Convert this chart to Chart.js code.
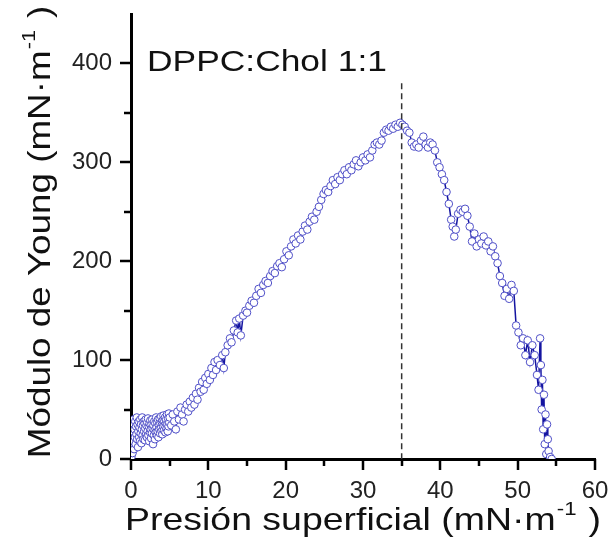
<!DOCTYPE html>
<html>
<head>
<meta charset="utf-8">
<script src="https://cdn.jsdelivr.net/npm/chart.js@4/dist/chart.umd.min.js"></script>
<style>
  body { margin: 0; background: #fff; }
  canvas { display: block; }
</style>
</head>
<body>
<canvas id="youngChart" width="611" height="555"></canvas>
<script>
// surface pressure (mN/m) and Young modulus (mN/m)
var pressure = [
  0.05, 0.10, 0.15, 0.20, 0.25, 0.30, 0.35, 0.40, 0.45, 0.50, 0.55, 0.60, 0.65, 0.70, 0.75, 0.80, 0.85, 0.90, 0.95, 1.00,
  1.05, 1.10, 1.15, 1.20, 1.25, 1.30, 1.35, 1.40, 1.45, 1.50, 1.55, 1.60, 1.65, 1.70, 1.75, 1.80, 1.85, 1.90, 1.95, 2.00,
  2.05, 2.10, 2.15, 2.20, 2.25, 2.30, 2.35, 2.40, 2.45, 2.50, 2.55, 2.60, 2.65, 2.70, 2.75, 2.80, 2.85, 2.90, 2.95, 3.00,
  3.05, 3.10, 3.15, 3.20, 3.25, 3.30, 3.35, 3.40, 3.45, 3.50, 3.55, 3.60, 3.65, 3.70, 3.75, 3.80, 3.85, 3.90, 3.95, 4.00,
  4.05, 4.10, 4.15, 4.20, 4.25, 4.30, 4.35, 4.40, 4.45, 4.50, 4.55, 4.60, 4.65, 4.70, 4.75, 4.80, 4.85, 4.90, 4.95, 5.00,
  5.2, 5.4, 5.6, 5.8, 6.0, 6.2, 6.4, 6.6, 6.8, 7.0, 7.2, 7.4, 7.6, 7.8, 8.0, 8.2, 8.4, 8.6, 8.8, 9.0,
  9.2, 9.4, 9.6, 9.8, 10.0, 10.2, 10.4, 10.6, 10.8, 11.0, 11.2, 11.5, 11.8, 12.0, 12.2, 12.5, 12.8, 13.0, 13.3, 13.6,
  13.8, 14.0, 14.2, 14.5, 14.8, 15.0, 15.3, 15.6, 15.9, 16.2, 16.5, 16.8, 17.1, 17.4, 17.7, 18.0, 18.3, 18.6, 18.9, 19.2,
  19.5, 19.8, 20.1, 20.4, 20.7, 21.0, 21.3, 21.6, 21.9, 22.2, 22.5, 22.8, 23.1, 23.4, 23.7, 24.0, 24.3, 24.6, 24.9, 25.2,
  25.5, 25.8, 26.1, 26.4, 26.7, 27.0, 27.3, 27.6, 27.9, 28.2, 28.5, 28.8, 29.1, 29.4, 29.7, 30.0, 30.3, 30.6, 30.9, 31.2,
  31.5, 31.8, 32.1, 32.4, 32.7, 33.0, 33.3, 33.6, 33.9, 34.2, 34.5, 34.8, 35.1, 35.4, 35.7, 36.0, 36.3, 36.6, 36.9, 37.2,
  37.5, 37.8, 38.1, 38.4, 38.7, 39.0, 39.3, 39.6, 39.9, 40.2, 40.5, 40.8, 41.1, 41.4, 41.6, 41.8, 42.0, 42.3, 42.6, 42.9,
  43.2, 43.5, 43.8, 44.1, 44.4, 44.7, 45.0, 45.3, 45.6, 45.9, 46.2, 46.5, 46.8, 47.1, 47.4, 47.7, 48.0, 48.3, 48.6, 48.9,
  49.2, 49.5, 49.8, 50.1, 50.4, 50.7, 51.0, 51.3, 51.6, 51.9, 52.2, 52.5, 52.7, 52.9, 53.0, 53.1, 53.2, 53.3, 53.4, 53.5,
  53.6, 53.7, 53.8, 53.9, 54.0, 54.2, 54.4
];
var young = [
  2, 14, 28, 6, 36, 18, 40, 10, 30, 22, 38, 15, 33, 25, 42, 20, 35, 12, 28, 38,
  22, 32, 18, 40, 26, 35, 16, 30, 42, 24, 34, 20, 38, 28, 36, 19, 31, 40, 25, 34,
  22, 37, 28, 41, 24, 33, 18, 36, 27, 39, 30, 21, 35, 26, 40, 31, 15, 34, 24, 38,
  29, 20, 36, 27, 42, 32, 24, 37, 28, 40, 22, 34, 30, 41, 26, 36, 31, 43, 28, 37,
  25, 39, 33, 44, 29, 38, 34, 42, 27, 36, 40, 31, 45, 35, 28, 41, 33, 46, 37, 42,
  34, 45, 38, 30, 48, 40, 52, 45, 38, 50, 55, 48, 58, 52, 62, 55, 66, 60, 72, 68,
  78, 70, 82, 76, 86, 80, 92, 85, 98, 90, 100, 95, 105, 92, 108, 115, 122, 118, 130, 140,
  128, 142, 125, 145, 150, 148, 155, 160, 158, 165, 172, 168, 176, 180, 178, 185, 190, 188, 195, 198,
  194, 202, 210, 206, 215, 222, 218, 226, 222, 230, 236, 232, 240, 245, 242, 250, 255, 262, 268, 272,
  270, 276, 282, 278, 285, 282, 288, 292, 288, 295, 292, 298, 302, 296, 300, 305, 302, 308, 305, 312,
  318, 320, 318, 322, 330, 333, 332, 336, 334, 338, 336, 340, 338, 336, 332, 330, 320, 316, 318, 315,
  322, 326, 318, 315, 320, 318, 312, 300, 295, 288, 282, 270, 258, 242, 235, 225, 232, 248, 252, 250,
  253, 246, 235, 220, 228, 215, 222, 218, 225, 216, 220, 210, 215, 205, 198, 185, 178, 165, 172, 162,
  176, 170, 135, 128, 115, 122, 105, 120, 98, 115, 105, 85, 70, 122, 95, 50, 80, 30, 65, 15,
  45, 5, 35, 20, 8, 2, 0
];
var xTicks = [0, 10, 20, 30, 40, 50, 60];
var yTicks = [0, 100, 200, 300, 400];
var peakPressure = 35;
var peakLineTop = 380;
var label = 'DPPC:Chol 1:1';
var xTitle = ['Presión superficial (mN·m', '-1', ')'];
var yTitle = ['Módulo de Young (mN·m', '-1', ')'];

var points = pressure.map(function (p, i) { return { x: p, y: young[i] }; });

var FONT = '"Liberation Sans", Arial, sans-serif';

// axis title with a raised "-1", stretched a bit sideways like the source figure
function drawTitle(ctx, cx, cy, rot, parts, size, sx) {
  ctx.save();
  ctx.translate(cx, cy);
  ctx.rotate(rot);
  ctx.scale(sx, 1);
  ctx.fillStyle = '#111';
  ctx.textBaseline = 'alphabetic';
  var big = size + 'px ' + FONT, small = Math.round(size * 0.58) + 'px ' + FONT;
  ctx.font = big;
  var w1 = ctx.measureText(parts[0]).width, w3 = ctx.measureText(parts[2]).width;
  ctx.font = small;
  var w2 = ctx.measureText(parts[1]).width;
  var gap = size * 0.35;
  var x = -(w1 + w2 + gap + w3) / 2;
  ctx.font = big;
  ctx.fillText(parts[0], x, 0);
  x += w1;
  ctx.font = small;
  ctx.fillText(parts[1], x + 1, -size * 0.47);
  x += w2 + gap;
  ctx.font = big;
  ctx.fillText(parts[2], x, 0);
  ctx.restore();
}

// outward tick marks (major + minor), dashed line at the peak, texts
var extras = {
  id: 'extras',
  afterDraw: function (chart) {
    var ctx = chart.ctx;
    var xs = chart.scales.x, ys = chart.scales.y;
    var area = chart.chartArea;
    ctx.save();
    ctx.strokeStyle = '#000';
    ctx.lineWidth = 2.5;
    ctx.beginPath();
    for (var v = 0; v <= 60; v += 5) {
      var px = Math.round(xs.getPixelForValue(v));
      var len = (v % 10 === 0) ? 11 : 7;
      ctx.moveTo(px, area.bottom);
      ctx.lineTo(px, area.bottom + len);
    }
    for (var w = 0; w <= 400; w += 50) {
      var py = Math.round(ys.getPixelForValue(w));
      var len2 = (w % 100 === 0) ? 11 : 7;
      ctx.moveTo(area.left, py);
      ctx.lineTo(area.left - len2, py);
    }
    ctx.stroke();

    // dashed marker at the peak
    ctx.lineWidth = 1.5;
    ctx.strokeStyle = '#333';
    ctx.setLineDash([6, 4]);
    var dx = xs.getPixelForValue(peakPressure);
    ctx.beginPath();
    ctx.moveTo(dx, ys.getPixelForValue(peakLineTop));
    ctx.lineTo(dx, area.bottom);
    ctx.stroke();
    ctx.setLineDash([]);

    // sample label
    ctx.save();
    ctx.translate(area.left + 16, 71);
    ctx.scale(1.22, 1);
    ctx.fillStyle = '#111';
    ctx.font = '29px ' + FONT;
    ctx.textBaseline = 'alphabetic';
    ctx.fillText(label, 0, 0);
    ctx.restore();
    ctx.restore();

    drawTitle(ctx, (area.left + area.right) / 2, 530, 0, xTitle, 32, 1.17);
    drawTitle(ctx, 50, 232, -Math.PI / 2, yTitle, 32, 1.15);
  }
};

var ctx = document.getElementById('youngChart').getContext('2d');
new Chart(ctx, {
  type: 'line',
  data: {
    datasets: [{
      data: points,
      borderColor: '#1414a0',
      borderWidth: 1.5,
      pointRadius: 3.8,
      pointBorderWidth: 1,
      pointBorderColor: '#5050c8',
      pointBackgroundColor: '#ffffff',
      tension: 0
    }]
  },
  options: {
    responsive: false,
    animation: false,
    layout: { padding: { top: 14, right: 16, left: 0, bottom: 0 } },
    plugins: { legend: { display: false }, tooltip: { enabled: false } },
    scales: {
      x: {
        type: 'linear',
        min: 0,
        max: 60,
        afterFit: function (s) {
          s.height = 96;
          s.paddingLeft = 0;
          s.paddingRight = 0;
        },
        afterBuildTicks: function (s) { s.ticks = xTicks.map(function (v) { return { value: v }; }); },
        grid: { display: true, drawOnChartArea: false, drawTicks: false },
        border: { display: true, color: '#000', width: 3 },
        ticks: {
          padding: 18,
          color: '#222',
          font: { family: FONT, size: 24 }
        },
        title: { display: false }
      },
      y: {
        type: 'linear',
        min: 0,
        max: 450,
        afterFit: function (s) {
          s.width = 131;
          s.paddingTop = 0;
          s.paddingBottom = 0;
        },
        afterBuildTicks: function (s) { s.ticks = yTicks.map(function (v) { return { value: v }; }); },
        grid: { display: true, drawOnChartArea: false, drawTicks: false },
        border: { display: true, color: '#000', width: 3 },
        ticks: {
          padding: 19,
          color: '#222',
          font: { family: FONT, size: 24 }
        },
        title: { display: false }
      }
    }
  },
  plugins: [extras]
});
</script>
</body>
</html>
